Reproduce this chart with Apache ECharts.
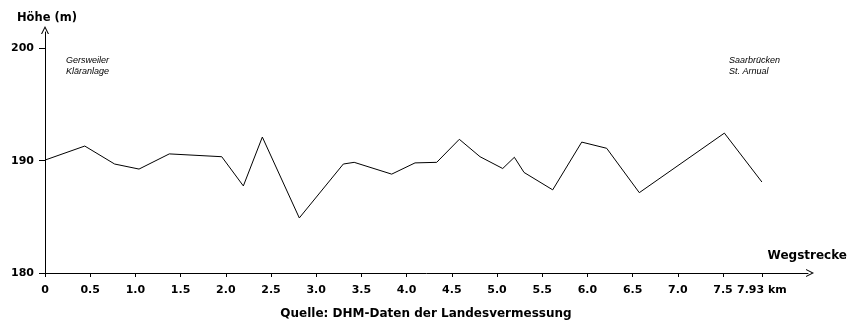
<!DOCTYPE html>
<html><head><meta charset="utf-8">
<script src="https://cdn.jsdelivr.net/npm/echarts@6/dist/echarts.min.js"></script>
<style>html,body{margin:0;padding:0;background:#fff}#c{width:852px;height:329px}</style>
</head><body><div id="c"></div>
<script>
const km = [0, 0.44, 0.77, 1.04, 1.375, 1.955, 2.194, 2.404, 2.813, 3.30, 3.42, 3.835, 4.093, 4.333, 4.583, 4.812, 5.063, 5.192, 5.299, 5.616, 5.937, 6.213, 6.574, 7.515, 7.93];
const hoehe = [190.05, 191.3, 189.7, 189.25, 190.6, 190.35, 187.75, 192.1, 184.9, 189.7, 189.85, 188.8, 189.8, 189.85, 191.9, 190.35, 189.3, 190.3, 188.95, 187.4, 191.65, 191.1, 187.15, 192.45, 188.1];
const xTicks = [0, 0.5, 1, 1.5, 2, 2.5, 3, 3.5, 4, 4.5, 5, 5.5, 6, 6.5, 7, 7.5, 7.93];
const yTicks = [180, 190, 200];

const chart = echarts.init(document.getElementById('c'));
const arrow = 'path://M0,10 L5,0 L10,10 L8.6,10 L5,2.8 L1.4,10 Z';
const lblFont = {fontFamily: 'DejaVu Sans, sans-serif', fontWeight: 'bold', fontSize: 11, color: '#000'};
chart.setOption({
  animation: false,
  backgroundColor: '#fff',
  grid: {left: 45, right: 44, top: 32, bottom: 56},
  xAxis: {
    type: 'value', min: 0, max: 8.44,
    splitLine: {show: false},
    axisLine: {show: true, lineStyle: {color: '#000', width: 1}, symbol: ['none', arrow], symbolSize: [9, 8], symbolOffset: [0, 2]},
    axisTick: {show: true, length: 4, inside: false, customValues: xTicks, lineStyle: {color: '#000'}},
    axisLabel: Object.assign({customValues: xTicks, margin: 12,
      formatter: v => v === 7.93 ? '7.93 km' : (v === 0 ? '0' : v.toFixed(1))}, lblFont)
  },
  yAxis: {
    type: 'value', min: 180, max: 201.45,
    splitLine: {show: false},
    axisLine: {show: true, onZero: false, lineStyle: {color: '#000', width: 1}, symbol: ['none', arrow], symbolSize: [9, 8], symbolOffset: [0, 2]},
    axisTick: {show: true, length: 6, customValues: yTicks, lineStyle: {color: '#000'}},
    axisLabel: Object.assign({customValues: yTicks, margin: 11}, lblFont)
  },
  series: [{
    type: 'line',
    data: km.map((k, i) => [k, hoehe[i]]),
    showSymbol: false, smooth: false,
    lineStyle: {color: '#000', width: 1},
    silent: true
  }],
  graphic: [
    {type: 'text', left: 17, top: 12, style: Object.assign({text: 'Höhe (m)'}, lblFont, {fill: '#000', fontSize: 11.5})},
    {type: 'text', left: 66, top: 55, style: {text: 'Gersweiler\nKläranlage', fill: '#000', fontFamily: 'Liberation Sans, Arial, sans-serif', fontStyle: 'italic', fontSize: 9, lineHeight: 11}},
    {type: 'text', left: 729, top: 55, style: {text: 'Saarbrücken\nSt. Arnual', fill: '#000', fontFamily: 'Liberation Sans, Arial, sans-serif', fontStyle: 'italic', fontSize: 9, lineHeight: 11}},
    {type: 'text', right: 5, top: 250, style: Object.assign({text: 'Wegstrecke'}, lblFont, {fill: '#000', fontSize: 12})},
    {type: 'text', left: 'center', top: 308, style: Object.assign({text: 'Quelle: DHM-Daten der Landesvermessung'}, lblFont, {fill: '#000', fontSize: 12})}
  ]
});
</script></body></html>
